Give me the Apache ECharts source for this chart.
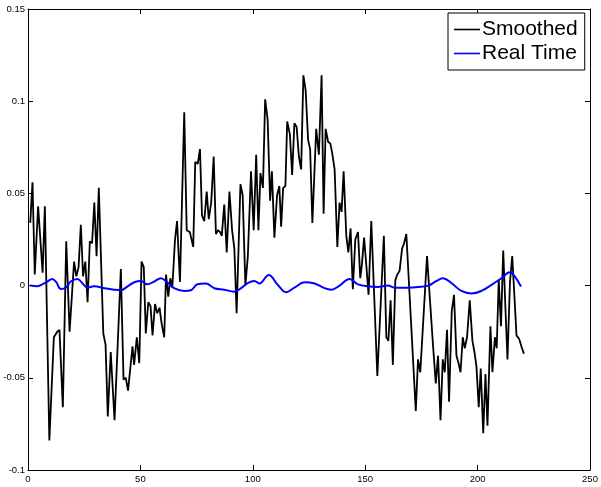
<!DOCTYPE html>
<html>
<head>
<meta charset="utf-8">
<script src="https://cdn.jsdelivr.net/npm/echarts@6/dist/echarts.min.js"></script>
<style>
html,body{margin:0;padding:0;background:#fff;}
#chart{width:601px;height:487px;}
</style>
</head>
<body>
<div id="chart"></div>
<script>
const seriesNames = ['Smoothed', 'Real Time'];
const xTicks = [0, 50, 100, 150, 200, 250];
const yTicks = [-0.1, -0.05, 0, 0.05, 0.1, 0.15];

const smoothedX = [1,2,3,4.5,6.5,7.5,9.5,11.5,13,14,15.5,17,18.5,20.5,21.5,22.5,23.5,24.5,25.5,26.5,27.5,28.5,29.5,30.5,31.5,33.5,34.5,35.5,36.8,37.5,38.5,41.3,42.5,43.5,44.5,46.5,47.2,48.4,49.5,50.5,51.5,52.4,53.5,54.5,55.4,56.5,57.5,58.5,59.5,60.6,61.4,62.4,63.3,64.2,65.4,66.3,67.6,69.5,70.6,72,73.5,74.4,75.5,76.5,77.4,78.4,79.5,80.4,81.5,82.6,83.6,84.5,85.5,86.2,87.3,88.4,89.6,90.8,91.8,92.8,94.5,95.5,96.7,97.8,99.2,100.4,101.5,102.5,103.4,104.5,105.5,106.6,107.7,108.5,109.6,110.8,111.8,112.6,113.5,114.5,115.3,116.5,117.5,118.5,119.5,120.5,121.5,122.5,123.5,124.6,125.5,126.5,128.2,129.4,130.6,131.5,132.4,133.5,134.5,135.3,136.4,137.6,138.6,139.5,140.4,141.6,142.5,143.5,144.5,145.6,146.8,147.8,148.5,149.5,150.5,151.5,152.7,155.4,158.3,159.4,160.3,161.3,162.3,163.4,164.3,165.3,166.4,167.3,168.3,172.5,173.5,174.5,177.5,180.2,181.4,182.4,183.5,184.5,185.4,186.4,187.3,188.5,189.5,190.6,191.5,192.4,193.4,194.3,195.3,196.5,197.7,198.6,199.5,200.5,201.4,202.5,203.5,204.4,205.7,206.6,207.7,208.5,209.4,210.4,211.4,212.4,213.3,214.4,215.4,216.3,217.3,218.5,219.5,220.6];
const smoothedY = [0.034,0.056,0.006,0.043,0.007,0.043,-0.084,-0.028,-0.025,-0.024,-0.066,0.024,-0.025,0.013,0.005,0.010,0.033,0.005,0.013,-0.009,0.024,0.023,0.045,0.016,0.053,-0.026,-0.032,-0.071,-0.036,-0.036,-0.073,0.009,-0.051,-0.050,-0.057,-0.033,-0.043,-0.028,-0.042,0.013,0.010,-0.026,-0.009,-0.011,-0.027,-0.010,-0.015,-0.012,-0.021,-0.028,0.006,-0.006,0.004,-0.001,0.025,0.035,0.002,0.094,0.030,0.029,0.021,0.067,0.066,0.074,0.038,0.035,0.051,0.036,0.045,0.070,0.028,0.030,0.029,0.027,0.044,0.018,0.051,0.030,0.020,-0.015,0.055,0.049,0.000,0.016,0.062,0.030,0.071,0.030,0.061,0.053,0.101,0.090,0.046,0.062,0.026,0.049,0.054,0.032,0.053,0.054,0.089,0.082,0.060,0.088,0.086,0.070,0.063,0.114,0.106,0.079,0.074,0.034,0.085,0.071,0.114,0.039,0.085,0.078,0.077,0.072,0.063,0.021,0.045,0.040,0.062,0.027,0.018,0.031,-0.002,0.025,0.029,0.004,0.011,0.026,0.011,-0.005,0.035,-0.049,0.027,-0.028,-0.030,-0.008,-0.043,0.003,0.006,0.008,0.020,0.023,0.028,-0.068,-0.040,-0.047,0.016,-0.033,-0.053,-0.038,-0.073,-0.040,-0.047,-0.024,-0.063,-0.014,-0.005,-0.038,-0.042,-0.047,-0.028,-0.034,-0.028,-0.008,-0.030,-0.036,-0.044,-0.066,-0.045,-0.080,-0.048,-0.076,-0.022,-0.047,-0.028,-0.034,0.003,-0.022,0.019,-0.013,-0.040,0.002,0.016,-0.004,-0.027,-0.029,-0.033,-0.037];

const realTimeX = [1,4,6.4,8.6,10.8,12.5,14.6,17,19,22,24.2,26.4,29.4,33.9,38.3,41.3,44.3,47.3,50.2,53.1,56.1,59.1,62,65,69.5,72.5,75.4,79.1,82.9,87.3,91.8,94.8,97.7,100.7,102.9,107.1,111.1,114.8,118.5,123,127.5,131.9,134.9,138.6,143,146.8,151.2,155.6,160.1,163.1,169,173.5,178,181.7,184.6,188.3,192.8,197.3,201.7,206.2,210.6,214.3,216.6,219.3];
const realTimeY = [0.000,-0.0004,0.0007,0.0022,0.0036,0.002,-0.0018,-0.001,0.0022,0.0036,0.0013,-0.0011,-0.0004,-0.0014,-0.0022,-0.0025,-0.0004,0.0018,0.0025,0.0007,0.0022,0.004,0.0018,-0.0014,-0.0029,-0.0025,0.0007,0.0011,-0.0014,-0.0022,-0.0033,-0.0014,0.0013,0.0025,0.0011,0.0058,0.0004,-0.0036,-0.0011,0.0018,0.0011,-0.0014,-0.0022,0,0.0036,0.0007,-0.0004,-0.0007,0,-0.0011,-0.0011,-0.0008,0,0.0025,0.004,0.0014,-0.0029,-0.0043,-0.0029,0.0004,0.004,0.0072,0.0049,-0.0005];

const font = '"Liberation Sans", Arial, Helvetica, sans-serif';
const chart = echarts.init(document.getElementById('chart'), null, {renderer: 'canvas'});

const baseAxisLine = {show: true, onZero: false, lineStyle: {color: '#000', width: 1}};
const tickIn = {show: true, inside: true, length: 5, lineStyle: {color: '#000', width: 1}};

chart.setOption({
  animation: false,
  backgroundColor: '#fff',
  grid: {left: 28, right: 11, top: 9, bottom: 17, containLabel: false},
  legend: {
    data: seriesNames,
    orient: 'vertical',
    left: 448, top: 13,
    padding: [6, 7, 6, 6],
    itemGap: 3,
    icon: 'rect',
    itemWidth: 26, itemHeight: 1.6,
    borderColor: '#000', borderWidth: 1,
    backgroundColor: '#fff',
    textStyle: {fontFamily: font, fontSize: 21, color: '#000', lineHeight: 21, padding: [0,0,0,-3]}
  },
  xAxis: [{
    type: 'value', min: xTicks[0], max: xTicks[xTicks.length-1], interval: 50,
    axisLine: baseAxisLine, axisTick: tickIn, splitLine: {show: false},
    axisLabel: {fontFamily: font, fontSize: 9.5, color: '#000', margin: 4}
  }, {
    type: 'value', position: 'top', min: xTicks[0], max: xTicks[xTicks.length-1], interval: 50,
    axisLine: baseAxisLine, axisTick: tickIn, splitLine: {show: false}, axisLabel: {show: false}
  }],
  yAxis: [{
    type: 'value', min: yTicks[0], max: yTicks[yTicks.length-1], interval: 0.05,
    axisLine: baseAxisLine, axisTick: tickIn, splitLine: {show: false},
    axisLabel: {fontFamily: font, fontSize: 9.5, color: '#000', margin: 3,
      formatter: v => String(Math.round(v*100)/100)}
  }, {
    type: 'value', position: 'right', min: yTicks[0], max: yTicks[yTicks.length-1], interval: 0.05,
    axisLine: baseAxisLine, axisTick: tickIn, splitLine: {show: false}, axisLabel: {show: false}
  }],
  series: [{
    name: seriesNames[0], type: 'line', symbol: 'none',
    data: smoothedX.map((x, i) => [x, smoothedY[i]]),
    lineStyle: {color: '#000', width: 1.8}, itemStyle: {color: '#000'}, z: 2
  }, {
    name: seriesNames[1], type: 'line', symbol: 'none', smooth: 0.4,
    data: realTimeX.map((x, i) => [x, realTimeY[i]]),
    lineStyle: {color: '#0000ff', width: 2}, itemStyle: {color: '#0000ff'}, z: 3
  }]
});
</script>
</body>
</html>
